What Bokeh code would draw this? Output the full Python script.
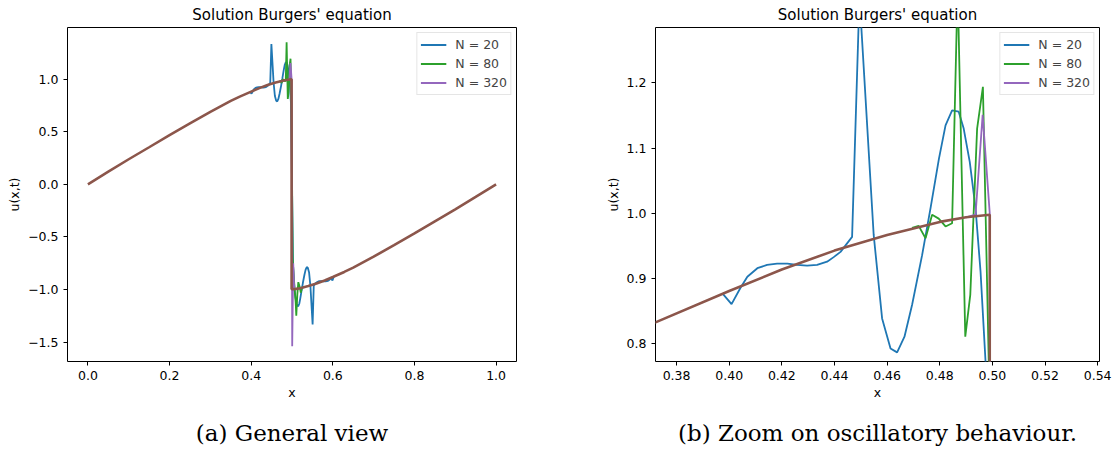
from bokeh.plotting import figure
from bokeh.layouts import row
from bokeh.models import FixedTicker, CustomJSTickFormatter, Title, Range1d
from bokeh.embed import file_html
from bokeh.resources import INLINE

# ---------------- data ----------------
exact_x = [0.0, 0.05, 0.10, 0.15, 0.20, 0.25, 0.30, 0.35, 0.372, 0.40, 0.42, 0.44, 0.46,
           0.48, 0.49, 0.499, 0.499, 0.51, 0.52, 0.54, 0.56, 0.58, 0.60, 0.628, 0.65,
           0.70, 0.75, 0.80, 0.85, 0.90, 0.95, 1.0]
exact_u = [0.0, 0.120, 0.238, 0.352, 0.467, 0.578, 0.688, 0.792, 0.833, 0.881, 0.914, 0.943, 0.967,
           0.987, 0.994, 0.998, -0.998, -0.994, -0.987, -0.967, -0.943, -0.914, -0.881, -0.833, -0.792,
           -0.688, -0.578, -0.467, -0.352, -0.238, -0.120, 0.0]

n20_x = [0.3975, 0.4009, 0.4043, 0.4069, 0.4107, 0.4144, 0.4182, 0.4221, 0.4258, 0.4296, 0.4334,
         0.4372, 0.4397, 0.4423, 0.4467, 0.4495, 0.4549, 0.4581, 0.4613, 0.4638, 0.4666, 0.4695,
         0.4733, 0.4765, 0.4797, 0.4822, 0.4847, 0.4872, 0.4891, 0.4914, 0.4936, 0.4955, 0.4974,
         0.5026, 0.5045, 0.5064, 0.5086, 0.5109, 0.5128, 0.5153, 0.5178, 0.5203, 0.5235, 0.5267,
         0.5305, 0.5334, 0.5362, 0.5387, 0.5419, 0.5451, 0.5505, 0.5533, 0.5577, 0.5603, 0.5628,
         0.5666, 0.5704, 0.5742, 0.5779, 0.5818, 0.5856, 0.5893, 0.5931, 0.5957, 0.5991, 0.6025]
n20_u = [0.877, 0.861, 0.886, 0.903, 0.916, 0.921, 0.923, 0.923, 0.921, 0.920, 0.921,
         0.926, 0.933, 0.941, 0.964, 1.333, 0.967, 0.839, 0.793, 0.787, 0.811, 0.860,
         0.936, 1.008, 1.084, 1.135, 1.158, 1.156, 1.130, 1.079, 1.008, 0.911, 0.773,
         -0.773, -0.911, -1.008, -1.079, -1.130, -1.156, -1.158, -1.135, -1.084, -1.008, -0.936,
         -0.860, -0.811, -0.787, -0.793, -0.839, -0.967, -1.333, -0.964, -0.941, -0.933, -0.926,
         -0.921, -0.920, -0.921, -0.923, -0.923, -0.921, -0.916, -0.903, -0.886, -0.915, -0.877]

n80_x = [0.4695, 0.4720, 0.4746, 0.4771, 0.4796, 0.4822, 0.4847, 0.4868, 0.4897, 0.4916, 0.4942,
         0.4964, 0.4990, 0.5015, 0.5040, 0.5065, 0.5090, 0.5105, 0.5130, 0.5155, 0.5187, 0.5215,
         0.5240, 0.5270]
n80_u = [0.978, 0.981, 0.962, 0.998, 0.992, 0.980, 0.985, 1.349, 0.811, 0.875, 1.130,
         1.194, 0.700, -0.700, -0.860, -1.000, -1.120, -1.250, -1.050, -0.930, -0.973, -1.030,
         -0.990, -0.982]

n320_x = [0.4900, 0.4936, 0.4963, 0.4990, 0.5005, 0.5030, 0.5055, 0.5080]
n320_u = [0.994, 0.998, 1.151, 1.000, -1.540, -0.750, -1.000, -0.995]

series_labels = ["N = 20", "N = 80", "N = 320"]
series_colors = ["#1f77b4", "#2ca02c", "#9467bd"]
exact_color = "#8c564b"

left_xticks = [0.0, 0.2, 0.4, 0.6, 0.8, 1.0]
left_yticks = [-1.5, -1.0, -0.5, 0.0, 0.5, 1.0]
right_xticks = [0.38, 0.40, 0.42, 0.44, 0.46, 0.48, 0.50, 0.52, 0.54]
right_yticks = [0.8, 0.9, 1.0, 1.1, 1.2]

title_text = "Solution Burgers' equation"
captions = ["(a) General view", "(b) Zoom on oscillatory behaviour."]

SANS = "DejaVu Sans"


def make_panel(xr, yr, xticks, yticks, xdec, ydec, fw, bl, br, caption):
    p = figure(frame_width=fw, frame_height=334,
               min_border_left=bl, min_border_right=br,
               min_border_top=26, min_border_bottom=96,
               x_range=Range1d(*xr), y_range=Range1d(*yr),
               output_backend="svg", toolbar_location=None,
               title=title_text)
    p.background_fill_color = "white"
    p.border_fill_color = "white"
    p.outline_line_color = "black"
    p.outline_line_width = 1
    p.grid.visible = False

    p.title.align = "center"
    p.title.text_font = SANS
    p.title.text_font_size = "15px"
    p.title.text_font_style = "normal"
    p.title.text_color = "black"
    p.title.standoff = 7

    series = [(n20_x, n20_u), (n80_x, n80_u), (n320_x, n320_u)]
    for (xs, us), lab, col in zip(series, series_labels, series_colors):
        p.line(xs, us, line_color=col, line_width=1.8, legend_label=lab)
    p.line(exact_x, exact_u, line_color=exact_color, line_width=2.6)

    for ax, ticks, dec, lab in ((p.xaxis[0], xticks, xdec, "x"), (p.yaxis[0], yticks, ydec, "u(x,t)")):
        ax.ticker = FixedTicker(ticks=ticks)
        ax.formatter = CustomJSTickFormatter(
            code="return tick.toFixed(%d).replace('-', '\\u2212');" % dec)
        ax.axis_label = lab
        ax.axis_label_text_font = SANS
        ax.axis_label_text_font_size = "12.5px"
        ax.axis_label_text_font_style = "normal"
        ax.axis_label_text_color = "black"
        ax.major_label_text_font = SANS
        ax.major_label_text_font_size = "12.5px"
        ax.major_label_text_color = "black"
        ax.major_tick_in = 0
        ax.major_tick_out = 4
        ax.major_tick_line_color = "black"
        ax.minor_tick_line_color = None
        ax.axis_line_color = None
        ax.major_label_standoff = 5
    p.xaxis[0].axis_label_standoff = 2
    p.yaxis[0].axis_label_standoff = 3

    lg = p.legend[0]
    lg.location = "top_right"
    lg.border_line_color = "#cccccc"
    lg.border_line_width = 1
    lg.background_fill_alpha = 0.8
    lg.label_text_font = SANS
    lg.label_text_font_size = "12.5px"
    lg.glyph_width = 26
    lg.glyph_height = 17
    lg.label_height = 17
    lg.spacing = 2
    lg.padding = 3
    lg.margin = 5
    lg.label_standoff = 9

    cap = Title(text=caption, align="center", text_font="DejaVu Serif",
                text_font_size="23px", text_font_style="normal",
                text_color="black", standoff=30)
    p.add_layout(cap, "below")
    return p


p1 = make_panel((-0.05, 1.05), (-1.684, 1.490), left_xticks, left_yticks, 1, 1,
                449, 67, 42, captions[0])
p2 = make_panel((0.372, 0.5407), (0.773, 1.285), right_xticks, right_yticks, 2, 1,
                444, 97, 17, captions[1])

layout = row(p1, p2)
open("out.html", "w", encoding="utf-8").write(file_html(layout, INLINE))
